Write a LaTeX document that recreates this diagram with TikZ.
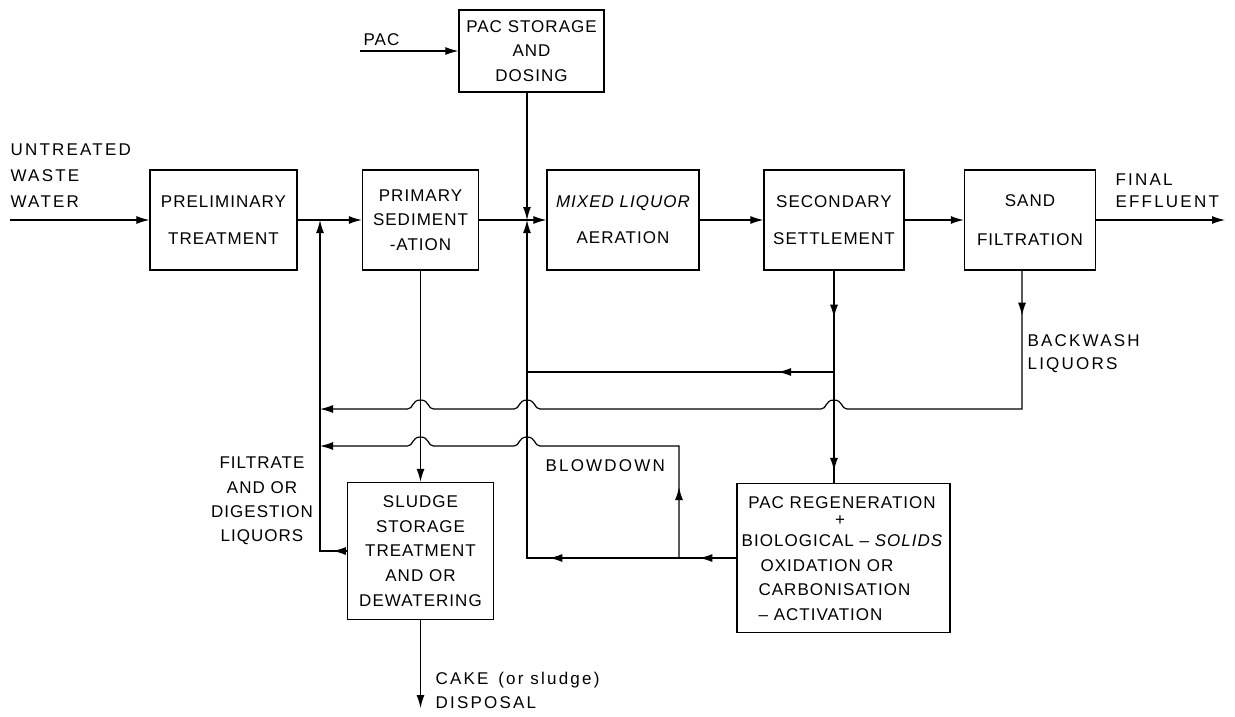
\documentclass[tikz,border=0pt]{standalone}
\usepackage{fontspec}
\setmainfont{Liberation Sans}[LetterSpace=6]
\newfontfamily\widefont{Liberation Sans}[LetterSpace=13]
\usetikzlibrary{arrows.meta,decorations.markings}
\begin{document}
\begin{tikzpicture}[x=1pt,y=-1pt,
  line width=1.2pt,
  arr/.style={-{Latex[length=13pt,width=8pt]}},
  tipat/.style={postaction={decorate,decoration={markings,mark=at position #1 with {\arrow{Latex[length=13pt,width=8pt]}}}}},
  hop/.style 2 args={insert path={-- ({#1+13},#2) .. controls ({#1+7},#2) and ({#1+9},{#2-9}) .. (#1,{#2-9}) .. controls ({#1-9},{#2-9}) and ({#1-7},#2) .. ({#1-13},#2)}},
  box/.style={draw, line width=1.3pt, inner sep=0pt, align=center, minimum height=100pt},
  two/.style={font=\fontsize{17}{37}\selectfont},
  multi/.style={font=\fontsize{17}{24.5}\selectfont},
  lbl/.style={inner sep=0pt, font=\fontsize{17}{24.5}\selectfont}
]
\useasboundingbox (0,0) rectangle (1235,716);

% boxes
\node[box,two,minimum width=147pt] (prelim) at (223.5,220) {PRELIMINARY\\TREATMENT};
\node[box,multi,minimum width=116pt] (primary) at (420.5,220) {PRIMARY\\SEDIMENT\\-ATION};
\node[box,multi,minimum width=145pt,minimum height=82pt] (pac) at (531.5,51) {PAC STORAGE\\AND\\DOSING};
\node[box,font=\fontsize{17}{36}\selectfont,minimum width=152pt] (mixed) at (623,220) {\itshape MIXED LIQUOR\\AERATION};
\node[box,two,minimum width=140pt] (sec) at (834,220) {SECONDARY\\SETTLEMENT};
\node[box,font=\fontsize{17}{39}\selectfont,minimum width=131pt] (sand) at (1030,220) {SAND\\FILTRATION};
\node[box,font=\fontsize{17}{24.75}\selectfont,minimum width=146pt,minimum height=137pt] (sludge) at (420.5,551) {SLUDGE\\STORAGE\\TREATMENT\\AND OR\\DEWATERING};
\node[box,minimum width=213pt,minimum height=149pt] (regen) at (843.5,558) {};

% text inside regeneration box
\node[lbl] (rg1) at (842,503) {PAC REGENERATION};
\node[inner sep=0pt,font=\fontsize{17}{17}\selectfont] (rg2) at (840,521) {+};
\node[lbl] (rg3) at (842,541) {BIOLOGICAL – \itshape SOLIDS};
\node[lbl,anchor=west,align=left] (rg4) at (758,590) {\hspace*{2pt}OXIDATION OR\\CARBONISATION\\– ACTIVATION};

% labels
\node[lbl,anchor=west,align=left,font=\widefont\fontsize{17}{26}\selectfont] (untreated) at (10,176) {UNTREATED\\WASTE\\WATER};
\node[lbl,anchor=west] (paclbl) at (363,40) {PAC};
\node[lbl,anchor=west,align=left,font=\widefont\fontsize{17}{22}\selectfont] (final) at (1115,191) {FINAL\\EFFLUENT};
\node[lbl,anchor=west,align=left,font=\widefont\fontsize{17}{23}\selectfont] (backwash) at (1027,353.5) {BACKWASH\\LIQUORS};
\node[lbl,align=center,font=\fontsize{17}{24.4}\selectfont] (filtrate) at (262,501) {FILTRATE\\AND OR\\DIGESTION\\LIQUORS};
\node[lbl,anchor=west,font=\widefont\fontsize{17}{24}\selectfont] (blowdown) at (545,466) {BLOWDOWN};
\node[lbl,anchor=west,align=left,font=\widefont\fontsize{17}{24}\selectfont] (cake) at (435,690) {CAKE \,(or sludge)\\DISPOSAL};

% coordinates
\coordinate (inS) at (10,220);
\coordinate (outE) at (1225,220);
\coordinate (pacIn) at (360,51);
\coordinate (J1) at (320,220);
\coordinate (J2) at (527,220);
\coordinate (cakeE) at (420.5,708);
\coordinate (R1) at (834,372);
\coordinate (R1L) at (527,372);
\coordinate (BW1) at (1022,409);
\coordinate (BW2) at (320,409);
\coordinate (BD0) at (679,558);
\coordinate (BD1) at (679,446);
\coordinate (BD2) at (320,446);
\coordinate (RL) at (527,558);
\coordinate (SL) at (320,551);

% main flow
\draw[arr] (inS) -- (prelim.west);
\draw[arr] (prelim.east) -- (primary.west);
\draw[arr] (primary.east) -- (mixed.west);
\draw[arr] (mixed.east) -- (sec.west);
\draw[arr] (sec.east) -- (sand.west);
\draw[arr] (sand.east) -- (outE);
\draw[arr] (pacIn) -- (pac.west);
\draw[arr] (pac.south -| J2) -- (J2);

% secondary settlement to regeneration
\draw[tipat=47pt,tipat=-12pt] (sec.south) -- (sec.south |- regen.north);
% sludge recycle
\draw[tipat=56pt] (R1) -- (R1L);
% backwash liquors
\draw[arr,tipat=45pt] ([xshift=-8pt]sand.south) -- (BW1) [hop={834}{409}] [hop={527}{409}] [hop={420.5}{409}] -- (BW2);
% regenerated PAC return
\draw[arr,tipat=37pt,tipat=187pt] (regen.west) -- (RL) -- (J2);
% blowdown
\draw[arr,tipat=71pt] (BD0) -- (BD1) [hop={527}{446}] [hop={420.5}{446}] -- (BD2);
% primary sludge
\draw[arr] (primary.south) -- (sludge.north);
% filtrate liquors
\draw[arr,tipat=14pt] (sludge.west) -- (SL) -- (J1);
% cake disposal
\draw[arr] (sludge.south) -- (cakeE);
\end{tikzpicture}
\end{document}
